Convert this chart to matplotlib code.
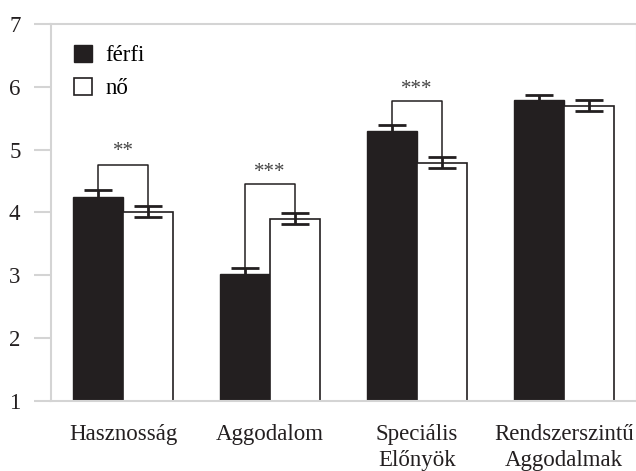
import numpy as np
import matplotlib
matplotlib.use('Agg')
import matplotlib.pyplot as plt
from matplotlib.patches import Patch

plt.rcParams['font.family'] = ['Liberation Serif', 'DejaVu Serif']

#adatok
kategoriak = ['Hasznosság', 'Aggodalom', 'Speciális\nElőnyök', 'Rendszerszintű\nAggodalmak']
ferfi = [4.24, 3.02, 5.30, 5.79]
no = [4.01, 3.90, 4.79, 5.70]
ferfi_hiba = [0.12, 0.10, 0.09, 0.08]
no_hiba = [0.09, 0.09, 0.09, 0.09]
szignif = ['**', '***', '***', '']
zarojel_magassag = [4.75, 4.45, 5.78, None]
csillag_magassag = [4.97, 4.63, 5.96, None]

fekete = '#231f20'
szurke = '#d4d4d4'

fig = plt.figure(figsize=(6.36, 4.71), dpi=100)
ax = fig.add_axes([51/636, 1 - 400.7/471, 1 - 51/636, (400.7 - 24)/471])

x = np.arange(len(kategoriak))
w = 0.34

ax.bar(x - w/2, ferfi, w, color=fekete, edgecolor=fekete, linewidth=1, zorder=2)
ax.bar(x + w/2, no, w, color='white', edgecolor=fekete, linewidth=1.2, zorder=2)
ax.errorbar(x - w/2, ferfi, yerr=ferfi_hiba, fmt='none', ecolor=fekete,
            elinewidth=2, capsize=10, capthick=2, zorder=3)
ax.errorbar(x + w/2, no, yerr=no_hiba, fmt='none', ecolor=fekete,
            elinewidth=2, capsize=10, capthick=2, zorder=3)

#szignifikancia zarojelek
for i in range(len(kategoriak)):
  if zarojel_magassag[i] is None:
    continue
  h = zarojel_magassag[i]
  bal = x[i] - w/2
  jobb = x[i] + w/2
  ax.plot([bal, bal, jobb, jobb],
          [ferfi[i] + ferfi_hiba[i], h, h, no[i] + no_hiba[i]],
          color=fekete, linewidth=1.1, zorder=4)
  ax.text(x[i], csillag_magassag[i], szignif[i], ha='center', va='center',
          fontsize=15, color='#444444')

ax.set_xlim(-0.49, 3.49)
ax.set_ylim(1, 7)
ax.set_yticks(range(1, 8))
ax.set_xticks(x)
ax.set_xticklabels(kategoriak, fontsize=16.5, color='#231f20', linespacing=1.3)
ax.tick_params(axis='x', length=0, pad=17)
ax.tick_params(axis='y', length=12, width=1.5, color=szurke, pad=10,
               labelsize=16.5, labelcolor='#231f20')

for s in ['left', 'top', 'bottom']:
  ax.spines[s].set_color(szurke)
  ax.spines[s].set_linewidth(1.5)
ax.spines['right'].set_color('#f0f0f0')
ax.spines['right'].set_linewidth(1)

jelek = [Patch(facecolor=fekete, edgecolor=fekete, linewidth=1),
         Patch(facecolor='white', edgecolor=fekete, linewidth=1.2)]
ax.legend(jelek, ['férfi', 'nő'], loc='upper left', bbox_to_anchor=(0.04, 0.944),
          frameon=False, fontsize=16.5, handlelength=0.75, handleheight=0.75,
          handletextpad=0.6, labelspacing=0.5, borderpad=0, borderaxespad=0)

fig.savefig('out.png', dpi=100)
